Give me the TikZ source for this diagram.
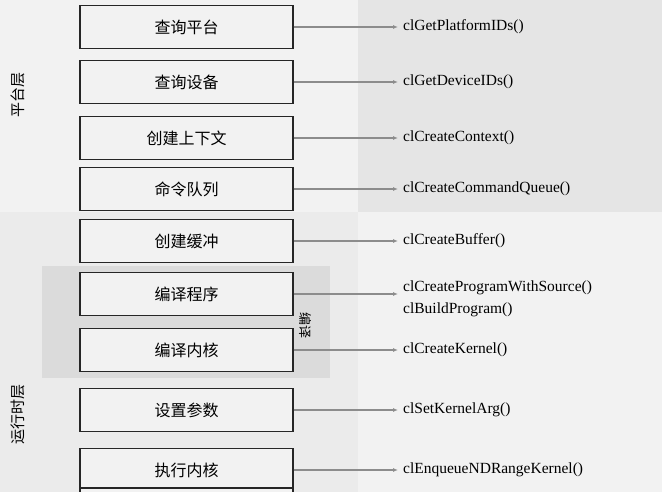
\documentclass[tikz,border=0pt]{standalone}
\usepackage{fontspec}
\setmainfont{Liberation Serif}
\newfontfamily\cjk{Noto Sans CJK SC}
\usetikzlibrary{arrows.meta}
\begin{document}
\begin{tikzpicture}[x=1pt,y=-1pt,
 stepbox/.style={draw=black!85,line width=1.2pt,fill=black!5,minimum width=213pt,minimum height=43pt,inner sep=0pt,font=\cjk\fontsize{16}{16}\selectfont},
 api/.style={anchor=west,font=\fontsize{15.5}{16}\selectfont,inner sep=0pt},
 conn/.style={draw=black!45,line width=1.3pt,-{Latex[length=5pt,width=4pt]}},
 side/.style={font=\cjk\fontsize{15}{15}\selectfont}]
\useasboundingbox (0,0) rectangle (662,492);
\fill[black!5] (0,0) rectangle (662,492);
\fill[black!10] (358,0) rectangle (662,212);
\fill[black!8] (0,212) rectangle (358,492);
\fill[black!14] (42,266) rectangle (330,378);
\def\boxes{27/查询平台/clGetPlatformIDs()/a,82/查询设备/clGetDeviceIDs()/b,138/创建上下文/clCreateContext()/c,189/命令队列/clCreateCommandQueue()/d,241/创建缓冲/clCreateBuffer()/e,294/编译程序/{}/f,350/编译内核/clCreateKernel()/g,410/设置参数/clSetKernelArg()/h,470/执行内核/clEnqueueNDRangeKernel()/i}
\foreach \y/\t/\f/\n in \boxes {
  \node[stepbox] (b\n) at (186.5,\y) {\t};
  \coordinate (t\n) at (398,\y);
  \draw[conn] (b\n.east) -- (t\n);
  \node[api] at (403,\y) {\f};
}
\node[api] at (403,288) {clCreateProgramWithSource()};
\node[api] at (403,310) {clBuildProgram()};
\draw[draw=black!85,line width=1.2pt,fill=black!5] (80,488) rectangle (293,500);
\node[side,rotate=-90,font=\cjk\fontsize{13}{13}\selectfont] at (305,325) {编译};
\node[side,rotate=90] at (18,95) {平台层};
\node[side,rotate=90] at (18,414) {运行时层};
\end{tikzpicture}
\end{document}
